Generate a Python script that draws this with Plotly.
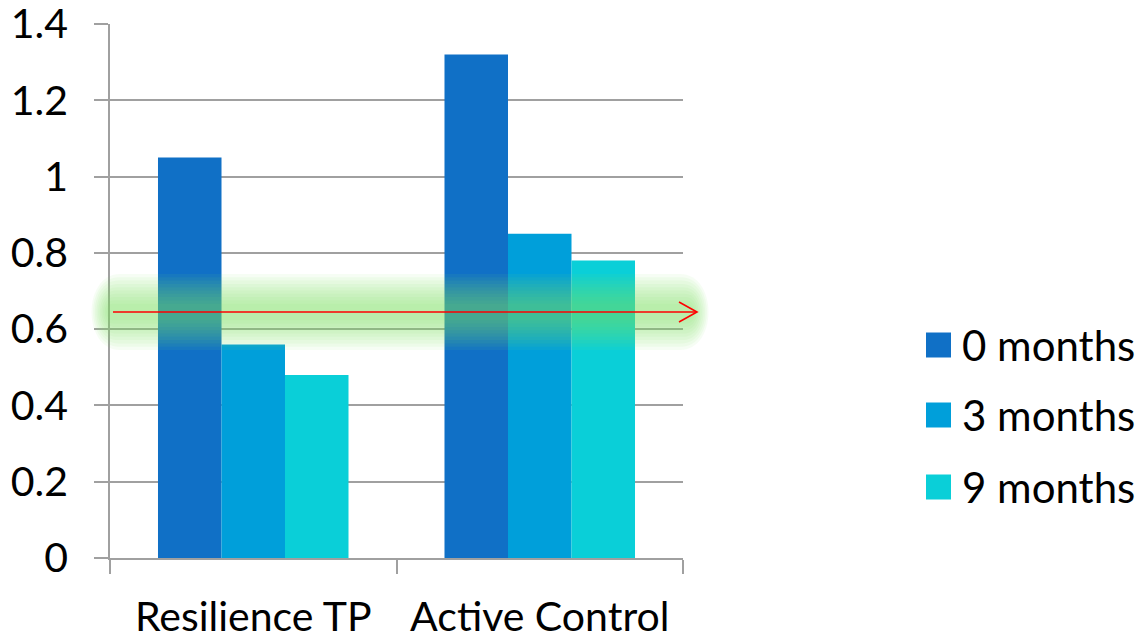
import plotly.graph_objects as go

categories = ["Resilience TP", "Active Control"]
series_names = ["0 months", "3 months", "9 months"]
values_0m = [1.05, 1.32]
values_3m = [0.56, 0.85]
values_9m = [0.48, 0.78]
colors = ["#1070C6", "#009FDA", "#0ACFD8"]
y_ticks = [0, 0.2, 0.4, 0.6, 0.8, 1.0, 1.2, 1.4]
y_tick_labels = ["0", "0.2", "0.4", "0.6", "0.8", "1", "1.2", "1.4"]
threshold = 0.645

W, H = 1140, 636
ML, MR, MT, MB = 110, 457, 24, 78
PW, PH = W - ML - MR, H - MT - MB
FONT = "Lato"
FS = 41

def px_x(px):
    return (px - ML) / PW

def px_y(py):
    return (H - MB - py) / PH

fig = go.Figure()
for name, vals, col in zip(series_names, [values_0m, values_3m, values_9m], colors):
    fig.add_trace(go.Bar(x=categories, y=vals, name=name, marker=dict(color=col, line=dict(width=0)),
                         showlegend=False))

shapes = []
# glow band (layered soft rounded rectangles)
y_c = H - MB - threshold * (PH / 1.4)
n = 10
for i in range(n):
    hh = 38 - i * 3.3
    x0p = 82 + i * 2.5
    x1p = 718 - i * 2.5
    r = hh
    def P(xp, yp):
        return f"{px_x(xp):.5f},{px_y(yp):.5f}"
    path = (f"M{P(x0p + r, y_c - hh)} L{P(x1p - r, y_c - hh)} "
            f"C{P(x1p, y_c - hh)} {P(x1p, y_c + hh)} {P(x1p - r, y_c + hh)} "
            f"L{P(x0p + r, y_c + hh)} "
            f"C{P(x0p, y_c + hh)} {P(x0p, y_c - hh)} {P(x0p + r, y_c - hh)} Z")
    shapes.append(dict(type="path", xref="paper", yref="paper", path=path,
                       fillcolor="#7FE060", opacity=0.07, line=dict(width=0), layer="above"))

# red arrow
shapes.append(dict(type="line", xref="paper", yref="y", x0=px_x(113), x1=px_x(697),
                   y0=threshold, y1=threshold, line=dict(color="#FF0000", width=1.6), layer="above"))
ah = 10 * 1.4 / PH
shapes.append(dict(type="path", xref="paper", yref="y",
                   path=f"M{px_x(679):.5f},{threshold + ah:.5f} L{px_x(697):.5f},{threshold:.5f} L{px_x(679):.5f},{threshold - ah:.5f}",
                   line=dict(color="#FF0000", width=1.6), layer="above"))

# manual legend
annotations = []
leg_y = [345, 415, 487]
for name, col, ly in zip(series_names, colors, leg_y):
    shapes.append(dict(type="rect", xref="paper", yref="paper",
                       x0=px_x(926), x1=px_x(951), y0=px_y(ly - 12.5), y1=px_y(ly + 12.5),
                       fillcolor=col, line=dict(width=0)))
    annotations.append(dict(x=px_x(960), y=px_y(ly), xref="paper", yref="paper", text=name,
                            showarrow=False, xanchor="left", yanchor="middle",
                            font=dict(family=FONT, size=42, color="#000000")))

fig.update_layout(
    width=W, height=H,
    margin=dict(l=ML, r=MR, t=MT, b=MB, autoexpand=False),
    paper_bgcolor="white", plot_bgcolor="white",
    barmode="group", bargap=0.335, bargroupgap=0,
    shapes=shapes, annotations=annotations,
    font=dict(family=FONT, size=FS, color="#000000"),
)
fig.update_yaxes(range=[0, 1.4], tickvals=y_ticks, ticktext=y_tick_labels,
                 showgrid=True, gridcolor="#A0A0A0", gridwidth=1.5,
                 ticks="outside", ticklen=14, tickcolor="#A0A0A0", tickwidth=1.5,
                 showline=True, linecolor="#A0A0A0", linewidth=1.5,
                 zeroline=False, ticklabelstandoff=18, ticklabeloverflow="allow",
                 tickfont=dict(family=FONT, size=FS, color="#000000"))
fig.update_xaxes(range=[-0.5, 1.5], tickson="boundaries", ticks="outside", ticklen=14,
                 tickcolor="#A0A0A0", tickwidth=1.5, showline=True, linecolor="#A0A0A0", linewidth=1.5,
                 showgrid=False, ticklabelstandoff=22, ticklabeloverflow="allow",
                 tickfont=dict(family=FONT, size=FS, color="#000000"))

fig.write_html("out.html")
